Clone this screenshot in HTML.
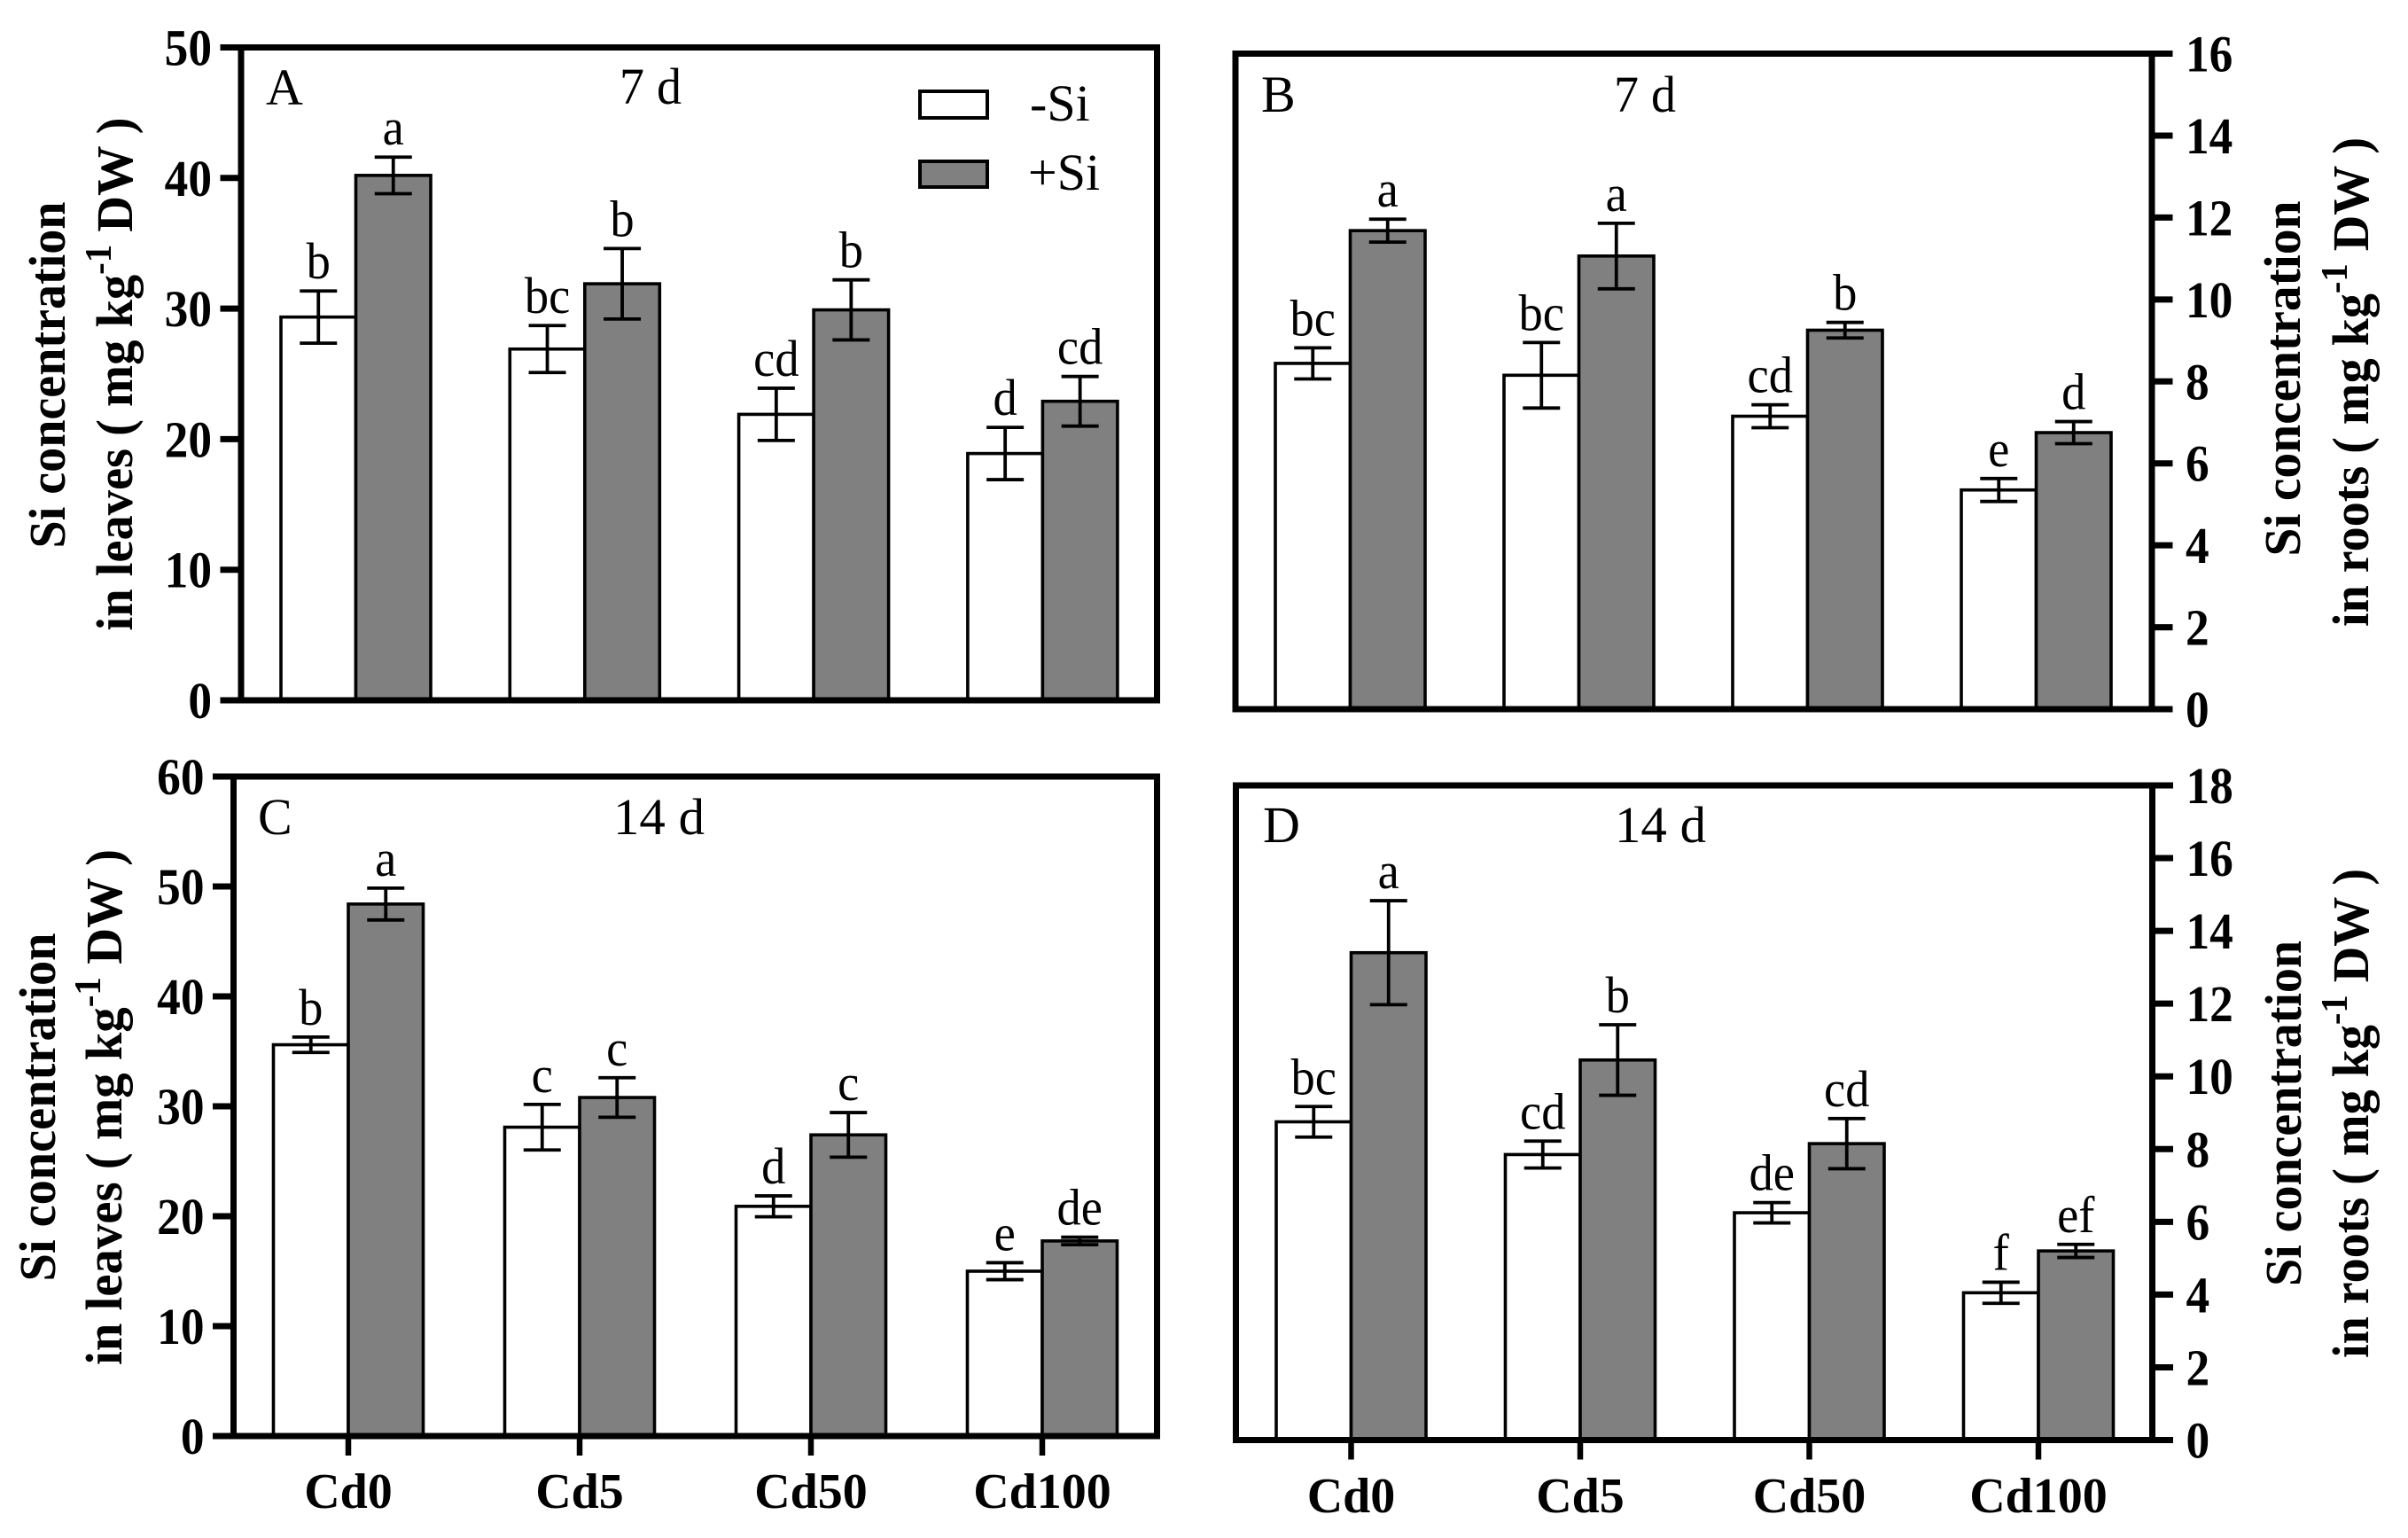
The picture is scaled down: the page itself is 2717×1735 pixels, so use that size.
<!DOCTYPE html>
<html lang="en">
<head>
<meta charset="utf-8">
<title>Si concentration in leaves and roots</title>
<style>
html,body{margin:0;padding:0;background:#fff;}
svg{display:block;}
text{font-family:"Liberation Serif",serif;fill:#000;}
.bold{font-weight:bold;}
</style>
</head>
<body>
<svg id="figure" xmlns="http://www.w3.org/2000/svg" width="2717" height="1735" viewBox="0 0 2717 1735">
<rect width="2717" height="1735" fill="#fff"/>
<g id="plots"></g>

<g font-size="58" lengthAdjust="spacingAndGlyphs">
<text x="300" y="118">A</text>
<text x="699" y="117" textLength="70" lengthAdjust="spacingAndGlyphs">7 d</text>
<text x="1423" y="126">B</text>
<text x="1821" y="126" textLength="70" lengthAdjust="spacingAndGlyphs">7 d</text>
<text x="291" y="941">C</text>
<text x="692" y="941" textLength="103" lengthAdjust="spacingAndGlyphs">14 d</text>
<text x="1425" y="950">D</text>
<text x="1822" y="950" textLength="103" lengthAdjust="spacingAndGlyphs">14 d</text>
</g>

<g>
<rect x="1038" y="103" width="76" height="30" fill="#fff" stroke="#000" stroke-width="4"/>
<text x="1162" y="136" font-size="58">-Si</text>
<rect x="1038" y="182" width="76" height="29" fill="#808080" stroke="#000" stroke-width="4"/>
<text x="1160" y="214" font-size="58">+Si</text>
</g>

<g class="bold" font-size="58" text-anchor="middle">
<text transform="translate(73 423) rotate(-90)" textLength="391" lengthAdjust="spacingAndGlyphs">Si concentration</text>
<text transform="translate(149 422) rotate(-90)" textLength="579" lengthAdjust="spacingAndGlyphs">in leaves ( mg kg<tspan dy="-24" font-size="42">-1</tspan><tspan dy="24"> DW )</tspan></text>
<text transform="translate(2595 427) rotate(-90)" textLength="401" lengthAdjust="spacingAndGlyphs">Si concentration</text>
<text transform="translate(2672 431) rotate(-90)" textLength="552" lengthAdjust="spacingAndGlyphs">in roots ( mg kg<tspan dy="-24" font-size="42">-1</tspan><tspan dy="24"> DW )</tspan></text>
<text transform="translate(62 1249) rotate(-90)" textLength="393" lengthAdjust="spacingAndGlyphs">Si concentration</text>
<text transform="translate(137 1249) rotate(-90)" textLength="582" lengthAdjust="spacingAndGlyphs">in leaves ( mg kg<tspan dy="-24" font-size="42">-1</tspan><tspan dy="24"> DW )</tspan></text>
<text transform="translate(2596 1256) rotate(-90)" textLength="390" lengthAdjust="spacingAndGlyphs">Si concentration</text>
<text transform="translate(2672 1256) rotate(-90)" textLength="552" lengthAdjust="spacingAndGlyphs">in roots ( mg kg<tspan dy="-24" font-size="42">-1</tspan><tspan dy="24"> DW )</tspan></text>
</g>
</svg>

<script>
const categories = ["Cd0", "Cd5", "Cd50", "Cd100"];

const panelATicks = [0, 10, 20, 30, 40, 50];
const panelAMinusSi = [29.35, 26.9, 21.9, 18.9];
const panelAPlusSi = [40.2, 31.9, 29.9, 22.9];
const panelAMinusErr = [2.0, 1.8, 2.0, 2.0];
const panelAPlusErr = [1.4, 2.7, 2.3, 1.9];
const panelAMinusLetters = ["b", "bc", "cd", "d"];
const panelAPlusLetters = ["a", "b", "b", "cd"];

const panelBTicks = [0, 2, 4, 6, 8, 10, 12, 14, 16];
const panelBMinusSi = [8.44, 8.15, 7.15, 5.35];
const panelBPlusSi = [11.68, 11.06, 9.25, 6.75];
const panelBMinusErr = [0.38, 0.8, 0.28, 0.28];
const panelBPlusErr = [0.28, 0.8, 0.19, 0.27];
const panelBMinusLetters = ["bc", "bc", "cd", "e"];
const panelBPlusLetters = ["a", "a", "b", "d"];

const panelCTicks = [0, 10, 20, 30, 40, 50, 60];
const panelCMinusSi = [35.6, 28.1, 20.9, 15.0];
const panelCPlusSi = [48.4, 30.8, 27.4, 17.75];
const panelCMinusErr = [0.7, 2.07, 0.95, 0.77];
const panelCPlusErr = [1.45, 1.8, 2.03, 0.34];
const panelCMinusLetters = ["b", "c", "d", "e"];
const panelCPlusLetters = ["a", "c", "c", "de"];

const panelDTicks = [0, 2, 4, 6, 8, 10, 12, 14, 16, 18];
const panelDMinusSi = [8.75, 7.85, 6.25, 4.05];
const panelDPlusSi = [13.4, 10.45, 8.15, 5.2];
const panelDMinusErr = [0.42, 0.37, 0.28, 0.29];
const panelDPlusErr = [1.43, 0.97, 0.69, 0.18];
const panelDMinusLetters = ["bc", "cd", "de", "f"];
const panelDPlusLetters = ["a", "b", "cd", "ef"];

const NS = "http://www.w3.org/2000/svg";
const plots = document.getElementById("plots");

function make(parent, tag, attrs) {
  const el = document.createElementNS(NS, tag);
  for (const k in attrs) el.setAttribute(k, attrs[k]);
  parent.appendChild(el);
  return el;
}

function drawPanel(p) {
  const group = make(plots, "g", {});
  
  

  const maxV = p.ticks[p.ticks.length - 1];
  const yScale = v => p.bottom - v * (p.bottom - p.top) / maxV;
  const xScale = i => p.firstBar + p.step * i;
  const barW = 84.5;

  p.categories.forEach((cat, i) => {
    const series = [
      { key: "minus-si", vals: p.minus, errs: p.minusErr, letters: p.minusLetters, fill: "#fff", off: 0 },
      { key: "plus-si", vals: p.plus, errs: p.plusErr, letters: p.plusLetters, fill: "#808080", off: barW }
    ];
    series.forEach(s => {
      const left = xScale(i) + s.off;
      const cx = left + barW / 2;
      const top = yScale(s.vals[i]);

      const bar = make(group, "rect", {
        x: left, y: top, width: barW, height: p.bottom - top,
        fill: s.fill, stroke: "#000", "stroke-width": 3.6
      });
      
      

      const hi = yScale(s.vals[i] + s.errs[i]);
      const lo = yScale(s.vals[i] - s.errs[i]);
      const err = make(group, "path", {
        d: "M" + cx + " " + hi + "V" + lo +
           "M" + (cx - 21) + " " + hi + "H" + (cx + 21) +
           "M" + (cx - 21) + " " + lo + "H" + (cx + 21),
        fill: "none", stroke: "#000", "stroke-width": 3.8
      });
      
      

      const sig = make(group, "text", {
        "font-size": 58, "text-anchor": "middle",
        transform: "translate(" + cx + " " + (hi - 14) + ") scale(.94 1)"
      });
      sig.textContent = s.letters[i];
      
      
    });

    if (p.showX) {
      const cx = xScale(i) + barW;
      const tick = make(group, "line", {
        x1: cx, x2: cx, y1: p.bottom, y2: p.bottom + p.xTickLen, stroke: "#000", "stroke-width": 6.5
      });
      
      

      const lab = make(group, "text", {
        x: cx, y: p.xLabelY, "font-size": 56, "font-weight": "bold", "text-anchor": "middle"
      });
      lab.textContent = cat;
      
      
    }
  });

  const frame = make(group, "rect", {
    x: p.left, y: p.top, width: p.right - p.left, height: p.bottom - p.top,
    fill: "none", stroke: "#000", "stroke-width": 7
  });
  
  

  p.ticks.forEach(t => {
    const y = yScale(t);
    const axisX = p.side === "left" ? p.left : p.right;
    const dir = p.side === "left" ? -1 : 1;
    const tick = make(group, "line", {
      x1: axisX, x2: axisX + dir * 23.5, y1: y, y2: y, stroke: "#000", "stroke-width": 7
    });
    
    

    const lab = make(group, "text", {
      "font-size": 58, "font-weight": "bold",
      "text-anchor": p.side === "left" ? "end" : "start",
      transform: "translate(" + (axisX + dir * (p.side === "left" ? 33 : 38)) + " " + (y + 20) + ") scale(.92 1)"
    });
    lab.textContent = t;
    
    
  });
}

drawPanel({
  id: "a", categories, ticks: panelATicks, minus: panelAMinusSi, plus: panelAPlusSi,
  minusErr: panelAMinusErr, plusErr: panelAPlusErr, minusLetters: panelAMinusLetters, plusLetters: panelAPlusLetters,
  left: 272, right: 1305.5, top: 53.5, bottom: 790, firstBar: 317, step: 258.3, side: "left", showX: false
});
drawPanel({
  id: "b", categories, ticks: panelBTicks, minus: panelBMinusSi, plus: panelBPlusSi,
  minusErr: panelBMinusErr, plusErr: panelBPlusErr, minusLetters: panelBMinusLetters, plusLetters: panelBPlusLetters,
  left: 1394, right: 2428, top: 60.5, bottom: 800, firstBar: 1439, step: 258, side: "right", showX: false
});
drawPanel({
  id: "c", categories, ticks: panelCTicks, minus: panelCMinusSi, plus: panelCPlusSi,
  minusErr: panelCMinusErr, plusErr: panelCPlusErr, minusLetters: panelCMinusLetters, plusLetters: panelCPlusLetters,
  left: 263.5, right: 1305.5, top: 876, bottom: 1620, firstBar: 308.5, step: 261, side: "left", showX: true,
  xTickLen: 22, xLabelY: 1701
});
drawPanel({
  id: "d", categories, ticks: panelDTicks, minus: panelDMinusSi, plus: panelDPlusSi,
  minusErr: panelDMinusErr, plusErr: panelDPlusErr, minusLetters: panelDMinusLetters, plusLetters: panelDPlusLetters,
  left: 1394.5, right: 2428.5, top: 886, bottom: 1624.5, firstBar: 1440, step: 258.5, side: "right", showX: true,
  xTickLen: 22, xLabelY: 1706
});
</script>
</body>
</html>
